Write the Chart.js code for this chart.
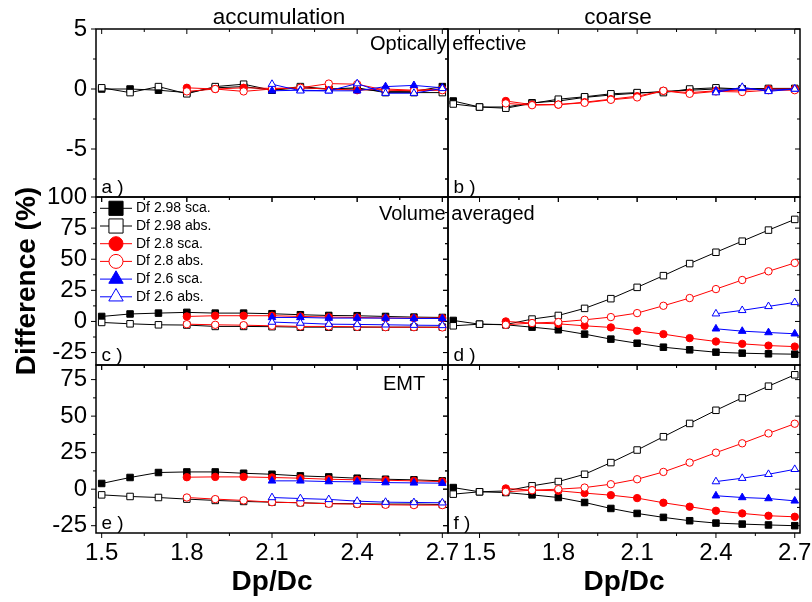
<!DOCTYPE html>
<html>
<head>
<meta charset="utf-8">
<script src="https://cdn.jsdelivr.net/npm/chart.js@4.4.1/dist/chart.umd.min.js"></script>
<style>
    html, body { margin: 0; padding: 0; background: #ffffff; }
    #wrap { width: 812px; height: 602px; }
</style>
</head>
<body>
<div id="wrap"><canvas id="diffCanvas" width="812" height="602"></canvas></div>
<script>

/************** Data ********************************/

// Dp/Dc positions
var X_ACC = [1.5, 1.6, 1.7, 1.8, 1.9, 2.0, 2.1, 2.2, 2.3, 2.4, 2.5, 2.6, 2.7];
var X_COARSE = [1.4, 1.5, 1.6, 1.7, 1.8, 1.9, 2.0, 2.1, 2.2, 2.3, 2.4, 2.5, 2.6, 2.7];

// tick labels
var X_TICKS = [1.5, 1.8, 2.1, 2.4, 2.7];
var Y_TICKS_TOP = [-5, 0, 5];
var Y_TICKS_MID = [-25, 0, 25, 50, 75, 100];
var Y_TICKS_BOT = [-25, 0, 25, 50, 75];

var SERIES_NAMES = ['Df 2.98 sca.', 'Df 2.98 abs.', 'Df 2.8 sca.', 'Df 2.8 abs.', 'Df 2.6 sca.', 'Df 2.6 abs.'];

// a) accumulation, optically effective
var A_SCA298 = [0.0, 0.0, -0.1, -0.3, 0.1, 0.2, -0.1, 0.1, 0.0, 0.0, -0.2, -0.2, 0.2];
var A_ABS298 = [0.1, -0.3, 0.2, -0.4, 0.2, 0.4, -0.1, 0.2, 0.0, 0.1, -0.3, -0.3, -0.3];
var A_SCA28 = [null, null, null, 0.1, 0.0, 0.1, 0.05, 0.1, 0.0, -0.1, 0.0, -0.1, 0.0];
var A_ABS28 = [null, null, null, -0.2, 0.0, -0.2, 0.0, 0.1, 0.45, 0.4, -0.1, -0.15, -0.1];
var A_SCA26 = [null, null, null, null, null, null, -0.15, -0.1, -0.15, -0.15, 0.2, 0.3, 0.1];
var A_ABS26 = [null, null, null, null, null, null, 0.4, -0.15, -0.15, 0.45, -0.35, -0.35, 0.05];

// b) coarse, optically effective
var B_SCA298 = [-1.0, -1.5, -1.5, -1.15, -1.0, -0.7, -0.5, -0.35, -0.2, -0.1, 0.0, 0.0, 0.0, 0.0];
var B_ABS298 = [-1.25, -1.5, -1.6, -1.2, -0.85, -0.65, -0.4, -0.3, -0.3, 0.0, 0.1, 0.0, 0.05, 0.05];
var B_SCA28 = [null, null, -1.0, -1.3, -1.3, -1.1, -0.85, -0.6, -0.15, -0.3, -0.15, -0.1, 0.0, 0.0];
var B_ABS28 = [null, null, -1.2, -1.35, -1.3, -1.15, -0.9, -0.7, -0.15, -0.4, -0.2, -0.25, -0.1, -0.1];
var B_SCA26 = [null, null, null, null, null, null, null, null, null, null, -0.15, 0.05, -0.1, 0.0];
var B_ABS26 = [null, null, null, null, null, null, null, null, null, null, -0.3, 0.15, -0.2, 0.0];

// c) accumulation, volume averaged
var C_SCA298 = [4.0, 6.0, 6.7, 7.3, 6.7, 6.7, 6.2, 5.4, 4.8, 4.6, 4.0, 3.5, 3.2];
var C_ABS298 = [-0.8, -1.9, -2.7, -2.9, -4.0, -4.0, -4.2, -4.6, -4.6, -4.6, -4.6, -4.6, -4.6];
var C_SCA28 = [null, null, null, 4.0, 4.6, 4.6, 4.6, 4.0, 3.5, 3.2, 2.7, 2.7, 2.7];
var C_ABS28 = [null, null, null, -2.2, -2.7, -3.0, -3.5, -4.0, -4.0, -4.3, -4.6, -4.6, -4.8];
var C_SCA26 = [null, null, null, null, null, null, 3.2, 3.2, 2.7, 2.7, 2.7, 2.4, 2.4];
var C_ABS26 = [null, null, null, null, null, null, -0.5, -1.3, -2.2, -2.4, -2.7, -3.0, -3.2];

// d) coarse, volume averaged
var D_SCA298 = [0.8, -2.2, -2.7, -4.6, -6.7, -10.2, -14.2, -17.5, -20.7, -22.8, -24.7, -25.5, -26.0, -26.3];
var D_ABS298 = [-3.5, -2.2, -2.5, 1.9, 4.8, 10.5, 18.3, 27.4, 36.8, 46.5, 55.6, 64.5, 73.4, 82.0];
var D_SCA28 = [null, null, 0.0, -1.3, -1.9, -3.5, -4.8, -7.5, -10.2, -13.4, -16.1, -18.0, -19.4, -20.2];
var D_ABS28 = [null, null, -2.7, -1.3, -0.5, 1.3, 3.5, 6.7, 12.6, 18.8, 26.0, 33.3, 40.3, 47.0];
var D_SCA26 = [null, null, null, null, null, null, null, null, null, null, -5.9, -7.8, -8.9, -9.9];
var D_ABS26 = [null, null, null, null, null, null, null, null, null, null, 6.2, 8.9, 12.1, 15.3];

// e) accumulation, EMT
var E_SCA298 = [3.9, 8.0, 11.4, 11.8, 11.8, 10.9, 10.2, 9.1, 8.4, 7.5, 6.8, 6.4, 5.7];
var E_ABS298 = [-3.9, -5.0, -5.7, -6.8, -7.7, -8.4, -8.9, -9.3, -9.8, -10.0, -10.2, -10.2, -10.5];
var E_SCA28 = [null, null, null, 8.2, 8.4, 8.4, 8.0, 7.5, 6.8, 6.4, 6.1, 5.7, 5.2];
var E_ABS28 = [null, null, null, -5.7, -6.8, -7.7, -8.9, -9.3, -10.0, -10.2, -10.7, -10.9, -10.9];
var E_SCA26 = [null, null, null, null, null, null, 5.7, 5.7, 5.2, 5.0, 4.5, 4.3, 4.1];
var E_ABS26 = [null, null, null, null, null, null, -5.7, -6.4, -7.0, -8.2, -8.9, -9.1, -9.3];

// f) coarse, EMT
var F_SCA298 = [1.1, -1.8, -2.3, -3.9, -5.7, -9.1, -13.2, -16.6, -19.3, -21.6, -23.2, -23.9, -24.5, -25.0];
var F_ABS298 = [-3.4, -1.8, -1.2, 2.3, 5.2, 10.2, 18.2, 26.8, 35.9, 45.0, 54.0, 62.5, 70.5, 78.3];
var F_SCA28 = [null, null, 0.5, -0.7, -1.1, -2.7, -4.1, -6.1, -9.3, -12.0, -14.8, -16.6, -18.2, -18.9];
var F_ABS28 = [null, null, -1.8, -0.7, 0.0, 1.1, 3.4, 6.8, 11.8, 18.2, 25.0, 31.4, 38.2, 44.8];
var F_SCA26 = [null, null, null, null, null, null, null, null, null, null, -4.5, -5.7, -6.4, -8.0];
var F_ABS26 = [null, null, null, null, null, null, null, null, null, null, 5.2, 7.5, 10.2, 13.6];

/************** Styles ********************************/

var FONT = "'Liberation Sans', Arial, sans-serif";

var seriesStyle = [
    {color: '#000000', shape: 'rect', filled: true, r: 4.6, legendR: 10},
    {color: '#000000', shape: 'rect', filled: false, r: 4.6, legendR: 10},
    {color: '#ff0000', shape: 'circle', filled: true, r: 3.7, legendR: 7},
    {color: '#ff0000', shape: 'circle', filled: false, r: 3.7, legendR: 7},
    {color: '#0000ff', shape: 'triangle', filled: true, r: 4.4, legendR: 8.3},
    {color: '#0000ff', shape: 'triangle', filled: false, r: 4.4, legendR: 8.3}
];

var panels = [
    {x: 'xl', y: 'ya', xs: X_ACC, ys: [A_SCA298, A_ABS298, A_SCA28, A_ABS28, A_SCA26, A_ABS26], tag: 'a )', minor: 2.5},
    {x: 'xr', y: 'ya', xs: X_COARSE, ys: [B_SCA298, B_ABS298, B_SCA28, B_ABS28, B_SCA26, B_ABS26], tag: 'b )', minor: 2.5},
    {x: 'xl', y: 'yc', xs: X_ACC, ys: [C_SCA298, C_ABS298, C_SCA28, C_ABS28, C_SCA26, C_ABS26], tag: 'c )', minor: 12.5},
    {x: 'xr', y: 'yc', xs: X_COARSE, ys: [D_SCA298, D_ABS298, D_SCA28, D_ABS28, D_SCA26, D_ABS26], tag: 'd )', minor: 12.5},
    {x: 'xl', y: 'ye', xs: X_ACC, ys: [E_SCA298, E_ABS298, E_SCA28, E_ABS28, E_SCA26, E_ABS26], tag: 'e )', minor: 12.5},
    {x: 'xr', y: 'ye', xs: X_COARSE, ys: [F_SCA298, F_ABS298, F_SCA28, F_ABS28, F_SCA26, F_ABS26], tag: 'f )', minor: 12.5}
];

var makeSet = function (xs, ys, idx, xId, yId) {
    var s = seriesStyle[idx];
    var pts = [];
    for (var i = 0; i < xs.length; i++) {
        if (ys[i] !== null) {
            pts.push({x: xs[i], y: ys[i]});
        }
    }
    return {
        label: SERIES_NAMES[idx],
        data: pts,
        xAxisID: xId,
        yAxisID: yId,
        borderColor: s.color,
        backgroundColor: s.color,
        borderWidth: 1,
        fill: false,
        tension: 0,
        pointStyle: s.shape,
        pointRadius: s.r,
        pointBorderWidth: 1,
        pointBorderColor: s.color,
        pointBackgroundColor: s.filled ? s.color : '#ffffff',
        order: 6 - idx
    };
};

var datasets = [];
panels.forEach(function (p) {
    for (var k = 0; k < 6; k++) {
        datasets.push(makeSet(p.xs, p.ys[k], k, p.x, p.y));
    }
});

/************** Scales ********************************/

var fitY = function (scale) {
    scale.width = 96;
    scale.paddingTop = 0;
    scale.paddingBottom = 0;
};
var fitX = function (scale) {
    scale.height = 69;
    scale.paddingLeft = 0;
    scale.paddingRight = 0;
};

var yScale = function (min, max, ticks, weight, withTitle) {
    return {
        type: 'linear',
        position: 'left',
        stack: 'rows',
        stackWeight: 1,
        weight: weight,
        min: min,
        max: max,
        grid: {display: false, drawTicks: false},
        border: {display: false},
        afterBuildTicks: function (scale) {
            scale.ticks = ticks.map(function (v) { return {value: v}; });
        },
        afterFit: fitY,
        ticks: {
            autoSkip: false,
            padding: 9,
            color: '#000000',
            font: {family: FONT, size: 24},
            callback: function (v) { return String(v); }
        },
        title: {
            display: withTitle,
            text: 'Difference (%)',
            color: '#000000',
            font: {family: FONT, size: 28, weight: 'bold'},
            padding: {top: 10, bottom: 0}
        }
    };
};

var xScale = function (min, max, weight) {
    return {
        type: 'linear',
        position: 'bottom',
        stack: 'cols',
        stackWeight: 1,
        weight: weight,
        min: min,
        max: max,
        grid: {display: false, drawTicks: false},
        border: {display: false},
        afterBuildTicks: function (scale) {
            scale.ticks = X_TICKS.map(function (v) { return {value: v}; });
        },
        afterFit: fitX,
        ticks: {
            autoSkip: false,
            maxRotation: 0,
            padding: 6,
            color: '#000000',
            font: {family: FONT, size: 24},
            callback: function (v) { return Number(v).toFixed(1); }
        },
        title: {
            display: true,
            text: 'Dp/Dc',
            color: '#000000',
            font: {family: FONT, size: 28, weight: 'bold'},
            padding: {top: 0, bottom: 3}
        }
    };
};

/************** Frames, ticks, legend, labels ********************************/

var tickMarks = function (ctx, lo, hi, step, cb) {
    var k0 = Math.ceil(lo / step - 1e-6), k1 = Math.floor(hi / step + 1e-6);
    for (var k = k0; k <= k1; k++) {
        cb(k * step, k % 2 === 0);
    }
};

var panelFrame = {
    id: 'panelFrame',
    beforeDatasetsDraw: function (chart) {
        var ctx = chart.ctx;
        ctx.save();
        ctx.strokeStyle = '#000000';
        panels.forEach(function (p) {
            var xs = chart.scales[p.x], ys = chart.scales[p.y];
            ctx.lineWidth = 1.5;
            ctx.strokeRect(xs.left, ys.top, xs.right - xs.left, ys.bottom - ys.top);
            ctx.lineWidth = 1;
            ctx.beginPath();
            tickMarks(ctx, xs.min, xs.max, 0.15, function (v, major) {
                var px = xs.getPixelForValue(v), len = major ? 5 : 3;
                ctx.moveTo(px, ys.bottom);
                ctx.lineTo(px, ys.bottom + len);
                ctx.moveTo(px, ys.top);
                ctx.lineTo(px, ys.top + len);
            });
            tickMarks(ctx, ys.min, ys.max, p.minor, function (v, major) {
                var py = ys.getPixelForValue(v), len = major ? 5 : 3;
                ctx.moveTo(xs.left - len, py);
                ctx.lineTo(xs.left, py);
                ctx.moveTo(xs.right - len, py);
                ctx.lineTo(xs.right, py);
            });
            ctx.stroke();
        });
        ctx.restore();
    },
    afterDraw: function (chart) {
        var ctx = chart.ctx;
        var xl = chart.scales.xl, xr = chart.scales.xr;
        var ya = chart.scales.ya, yc = chart.scales.yc, ye = chart.scales.ye;
        ctx.save();
        ctx.fillStyle = '#000000';

        // column titles
        ctx.font = '22.5px ' + FONT;
        ctx.textAlign = 'center';
        ctx.textBaseline = 'alphabetic';
        ctx.fillText('accumulation', (xl.left + xl.right) / 2 + 7, ya.top - 5);
        ctx.fillText('coarse', (xr.left + xr.right) / 2 - 6, ya.top - 5);

        // row labels
        ctx.font = '20px ' + FONT;
        ctx.textAlign = 'left';
        ctx.fillText('Optically effective', xl.right - 78, ya.top + 21);
        ctx.fillText('Volume averaged', xl.right - 69, yc.top + 23);
        ctx.fillText('EMT', xl.right - 65, ye.top + 25);

        // panel tags
        ctx.font = '19px ' + FONT;
        panels.forEach(function (p) {
            var xs = chart.scales[p.x], ys = chart.scales[p.y];
            ctx.fillText(p.tag, xs.left + 5.5, ys.bottom - 4);
        });

        // legend in panel c
        var lx = xl.left, ly = yc.top + 11.3;
        for (var i = 0; i < 6; i++) {
            var s = seriesStyle[i];
            var y = ly + i * 17.7;
            ctx.strokeStyle = s.color;
            ctx.lineWidth = 1;
            ctx.beginPath();
            ctx.moveTo(lx + 4, y);
            ctx.lineTo(lx + 36, y);
            ctx.stroke();
            ctx.fillStyle = s.filled ? s.color : '#ffffff';
            Chart.helpers.drawPoint(ctx, {pointStyle: s.shape, radius: s.legendR, rotation: 0, borderWidth: 1}, lx + 20, y);
            ctx.fillStyle = '#000000';
            ctx.font = '14px ' + FONT;
            ctx.textBaseline = 'middle';
            ctx.fillText(SERIES_NAMES[i], lx + 40, y);
        }
        ctx.restore();
    }
};

/************** Chart ********************************/

var ctx = document.getElementById('diffCanvas');
var diffChart = new Chart(ctx, {
    type: 'line',
    data: {datasets: datasets},
    options: {
        responsive: false,
        animation: false,
        events: [],
        layout: {padding: {left: 0, top: 29, right: 12, bottom: 0}},
        plugins: {
            legend: {display: false},
            tooltip: {enabled: false}
        },
        scales: {
            ya: yScale(-9, 5, Y_TICKS_TOP, 3, false),
            yc: yScale(-35, 100, Y_TICKS_MID, 2, true),
            ye: yScale(-30, 85, Y_TICKS_BOT, 1, false),
            xl: xScale(1.48, 2.72, 1),
            xr: xScale(1.38, 2.72, 2)
        }
    },
    plugins: [panelFrame]
});

</script>
</body>
</html>
